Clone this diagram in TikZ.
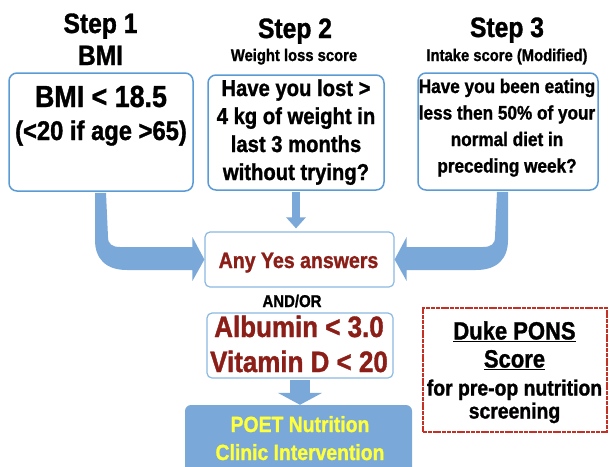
\documentclass[tikz,border=0pt]{standalone}
\usepackage{fontspec}
\setmainfont{Liberation Sans}[FakeStretch=0.88,FakeBold=1.2]
\usetikzlibrary{arrows.meta,calc,positioning}

\definecolor{boxblue}{RGB}{91,155,213}
\definecolor{arrowblue}{RGB}{122,168,216}
\definecolor{yesred}{RGB}{140,30,24}
\definecolor{poetyellow}{RGB}{255,255,60}
\definecolor{dukered}{RGB}{196,48,36}
\newcommand{\fs}[2]{\fontsize{#1}{#2}\selectfont}

\begin{document}
\begin{tikzpicture}[x=1pt,y=-1pt,every text node part/.style={align=center},
every node/.style={font=\bfseries,inner sep=0pt},
qbox/.style={draw=boxblue,line width=1.5pt,rounded corners=8pt,fill=white},
ansbox/.style={draw=boxblue!70,line width=1.2pt,rounded corners=5pt,fill=white},
title/.style={font=\bfseries\fs{28}{32},anchor=base},
subtitle/.style={font=\bfseries\fs{16.8}{20},anchor=base},
fat/.style={line width=#1,arrowblue}]
\clip (0,0) rectangle (609,466);
\node[title] (s1) at (100.5,33) {Step 1};
\node[title] (s1b) at (100.5,65) {BMI};
\node[title] (s2) at (295,38) {Step 2};
\node[subtitle] (s2b) at (294,61) {Weight loss score};
\node[title] (s3) at (507,37) {Step 3};
\node[subtitle] (s3b) at (507,61) {Intake score (Modified)};
\node[qbox,minimum width=184,minimum height=118] (bmi) at (101,132) {};
\node[qbox,minimum width=176,minimum height=115] (wl) at (296,132.5) {};
\node[qbox,minimum width=180,minimum height=117] (intake) at (508,131.5) {};
\node[anchor=base,font=\bfseries\fs{30.5}{33}] (bmitxt) at (101,140) {BMI < 18.5\\\fs{27}{33}(<20 if age >65)};
\node[anchor=base,font=\bfseries\fs{23}{28}] (wltxt) at (296,180) {Have you lost >\\4 kg of weight in\\last 3 months\\without trying?};
\node[anchor=base,font=\bfseries\fs{19.5}{26.5}] (intxt) at (507,172.5) {Have you been eating\\less then 50\% of your\\normal diet in\\preceding week?};
\node[ansbox,minimum width=189,minimum height=55] (yes) at (299.5,259.5) {};
\node[anchor=base,text=yesred,font=\bfseries\fs{22.2}{26}] (yestxt) at (298.5,268) {Any Yes answers};
\node[anchor=base,font=\bfseries\fs{17}{20}] (andor) at (292,307) {AND/OR};
\node[ansbox,minimum width=186,minimum height=65] (lab) at (300,345.5) {};
\node[anchor=base,text=yesred,font=\bfseries\fs{29.5}{35}] (labtxt) at (299,372) {Albumin < 3.0\\Vitamin D < 20};
\node[fill=arrowblue,rounded corners=6pt,minimum width=227,minimum height=85] (poet) at (298.5,447.5) {};
\node[anchor=base,text=poetyellow,font=\bfseries\fs{22}{28}] (poettxt) at (300,460) {POET Nutrition\\Clinic Intervention};
\node[draw=dukered,line width=2.8pt,dash pattern=on 4pt off 0.8pt,minimum width=184,minimum height=124] (duke) at (515,370) {};
\node[anchor=base,font=\bfseries\fs{22}{28}] (duketxt) at (514.5,418.5) {\fs{25}{28}\underline{Duke PONS}\\\fs{25}{28}\underline{Score}\\for pre-op nutrition\\[-5pt]screening};
\coordinate (lbend) at (bmi.south |- yes.west);
\coordinate (rtop) at ([xshift=-6pt]intake.south);
\coordinate (rbend) at (rtop |- yes.east);
\draw[fat=8pt,-{Triangle[width=19pt,length=11pt]},shorten <=1pt,shorten >=3pt] (wl.south) -- (wl.south |- yes.north);
\draw[fat=20pt,-{Triangle[width=44pt,length=12pt]},shorten <=1pt] (lab.south) -- (lab.south |- poet.north);
\fill[arrowblue] ([shift={(-6,1)}]bmi.south) -- ([shift={(5,1)}]bmi.south) -- ($(lbend)+(7,-22.5)$) .. controls ($(lbend)+(7,-15.5)$) and ($(lbend)+(11,-12.5)$) .. ($(lbend)+(19,-12.5)$) -- ($(yes.west)+(-12,-12.5)$) -- ($(yes.west)+(-12,-22.5)$) -- (yes.west) -- ($(yes.west)+(-12,21.5)$) -- ($(yes.west)+(-12,10.5)$) -- ($(lbend)+(26,10.5)$) .. controls ($(lbend)+(4,10.5)$) and ($(lbend)+(-6,-1.5)$) .. ($(lbend)+(-6,-19.5)$) -- cycle;
\fill[arrowblue] ([shift={(6,1)}]rtop) -- ([shift={(-5,1)}]rtop) -- ($(rbend)+(-7,-22.5)$) .. controls ($(rbend)+(-7,-15.5)$) and ($(rbend)+(-11,-12.5)$) .. ($(rbend)+(-19,-12.5)$) -- ($(yes.east)+(12,-12.5)$) -- ($(yes.east)+(12,-22.5)$) -- (yes.east) -- ($(yes.east)+(12,21.5)$) -- ($(yes.east)+(12,10.5)$) -- ($(rbend)+(-26,10.5)$) .. controls ($(rbend)+(-4,10.5)$) and ($(rbend)+(6,-1.5)$) .. ($(rbend)+(6,-19.5)$) -- cycle;
\end{tikzpicture}
\end{document}
